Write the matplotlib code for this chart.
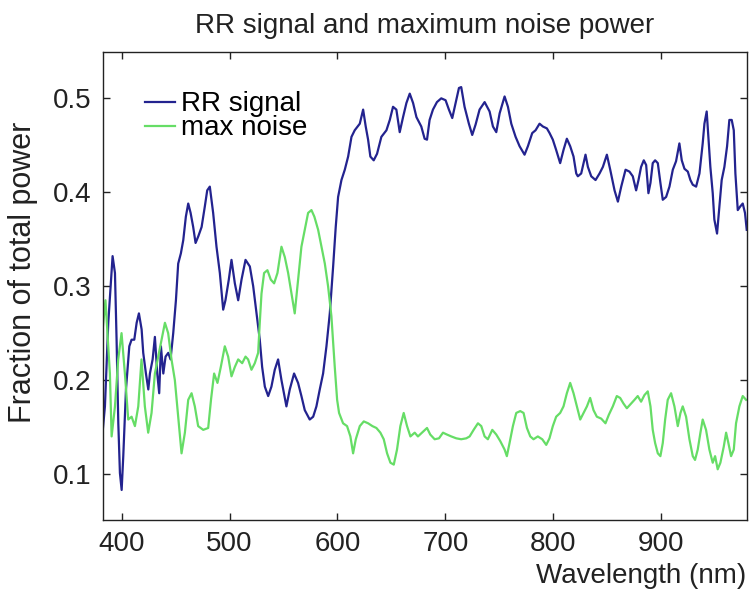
import matplotlib
matplotlib.use("Agg")
from matplotlib import pyplot as plt

# wavelength (nm) and fraction of total power
rr_wl = [382, 384.5, 387.6, 391.6, 393.8, 395.3, 396.9, 398.4, 400.0, 401.5,
         404.0, 407.1, 409.2, 411.7, 413.9, 416.0, 418.5, 420.0, 422.5, 424.7,
         426.2, 428.7, 430.8, 433.0, 434.8, 436.4, 438.6, 440.7, 443.2, 445.3,
         447.8, 450.3, 452.4, 454.9, 457.1, 459.5, 461.7, 463.9, 466.3, 468.5,
         471.0, 474.1, 477.1, 479.3, 481.7, 484.8, 487.9, 491.0, 494.1, 496.2,
         499.3, 501.8, 504.9, 508.0, 511.1, 514.8, 518.8, 521.9, 525.0, 528.0,
         530.2, 532.7, 535.8, 538.8, 541.9, 545.0, 548.1, 552.7, 555.8, 559.8,
         563.5, 566.6, 569.7, 574.3, 577.5, 580.5, 583.6, 586.7, 589.8, 592.9,
         596.0, 598.4, 600.6, 603.7, 606.8, 609.9, 613.0, 616.0, 620.7, 623.8,
         626.2, 628.4, 630.5, 633.6, 636.7, 640.7, 645.4, 648.5, 651.5, 654.6,
         657.7, 660.8, 663.9, 667.0, 670.1, 673.2, 677.7, 680.8, 683.0, 685.4,
         688.5, 692.2, 696.2, 700.2, 703.3, 706.4, 709.5, 712.6, 714.7, 717.8,
         721.8, 724.9, 728.0, 731.7, 736.4, 741.0, 744.1, 747.2, 750.3, 754.9,
         758.0, 761.1, 765.1, 768.8, 773.4, 776.5, 780.5, 783.6, 787.3, 790.4,
         794.1, 796.6, 799.6, 802.7, 806.4, 809.5, 812.6, 815.7, 818.8, 821.3,
         822.8, 825.9, 829.9, 832.1, 835.2, 839.2, 842.9, 846.0, 849.7, 852.8,
         856.8, 859.9, 863.0, 867.0, 870.6, 873.7, 876.8, 879.0, 881.4, 883.9,
         886.1, 888.2, 890.1, 892.2, 894.4, 896.9, 899.3, 901.5, 904.6, 907.7,
         910.8, 913.8, 916.9, 919.1, 921.6, 924.7, 927.1, 929.3, 932.4, 935.5,
         938.5, 940.1, 942.2, 943.8, 945.6, 947.8, 949.3, 951.8, 954.0, 956.1,
         958.6, 961.1, 963.2, 965.4, 967.3, 968.8, 971.0, 973.4, 975.6, 977.7,
         979.3]
rr_signal = [0.140, 0.172, 0.261, 0.332, 0.314, 0.243, 0.154, 0.101, 0.083, 0.119,
             0.190, 0.236, 0.243, 0.243, 0.261, 0.271, 0.254, 0.229, 0.207, 0.190,
             0.207, 0.222, 0.246, 0.207, 0.186, 0.236, 0.207, 0.225, 0.229, 0.222,
             0.250, 0.285, 0.324, 0.335, 0.349, 0.374, 0.388, 0.378, 0.363, 0.346,
             0.353, 0.363, 0.385, 0.402, 0.406, 0.378, 0.342, 0.314, 0.275, 0.285,
             0.307, 0.328, 0.303, 0.285, 0.307, 0.328, 0.321, 0.300, 0.271, 0.243,
             0.214, 0.193, 0.183, 0.193, 0.211, 0.222, 0.200, 0.172, 0.190, 0.207,
             0.197, 0.183, 0.168, 0.158, 0.161, 0.172, 0.190, 0.207, 0.236, 0.271,
             0.321, 0.363, 0.395, 0.413, 0.424, 0.438, 0.459, 0.466, 0.473, 0.488,
             0.470, 0.456, 0.438, 0.434, 0.441, 0.459, 0.466, 0.477, 0.491, 0.488,
             0.464, 0.480, 0.495, 0.505, 0.495, 0.480, 0.470, 0.457, 0.456, 0.477,
             0.488, 0.496, 0.500, 0.498, 0.488, 0.479, 0.495, 0.511, 0.512, 0.491,
             0.473, 0.461, 0.472, 0.488, 0.496, 0.486, 0.470, 0.464, 0.484, 0.502,
             0.491, 0.473, 0.459, 0.449, 0.440, 0.449, 0.463, 0.466, 0.473, 0.470,
             0.468, 0.463, 0.456, 0.445, 0.431, 0.445, 0.457, 0.449, 0.438, 0.420,
             0.417, 0.420, 0.440, 0.427, 0.417, 0.413, 0.420, 0.427, 0.440, 0.424,
             0.402, 0.390, 0.406, 0.424, 0.422, 0.417, 0.402, 0.413, 0.427, 0.434,
             0.429, 0.399, 0.410, 0.431, 0.434, 0.431, 0.410, 0.392, 0.395, 0.406,
             0.424, 0.433, 0.452, 0.434, 0.425, 0.422, 0.413, 0.408, 0.406, 0.420,
             0.452, 0.473, 0.486, 0.459, 0.427, 0.399, 0.371, 0.356, 0.385, 0.413,
             0.427, 0.449, 0.477, 0.477, 0.466, 0.420, 0.381, 0.385, 0.388, 0.378,
             0.360]

noise_wl = [382.5, 385.0, 389.1, 390.7, 393.8, 396.8, 399.9, 403.0, 406.1, 409.2,
            412.3, 415.4, 418.4, 421.5, 424.6, 427.7, 430.8, 433.9, 437.0, 440.1,
            443.1, 446.2, 449.3, 452.4, 455.5, 458.6, 461.7, 464.8, 467.8, 470.9,
            475.6, 480.2, 482.9, 485.7, 488.8, 491.9, 495.6, 498.7, 501.8, 504.9,
            508.0, 511.7, 514.8, 517.2, 520.3, 523.4, 526.5, 528.0, 529.6, 532.0,
            535.1, 538.2, 541.3, 544.4, 548.1, 551.2, 554.3, 557.4, 560.4, 563.5,
            566.6, 569.7, 572.8, 575.9, 578.6, 582.1, 585.2, 588.3, 591.3, 594.4,
            597.5, 599.7, 601.5, 605.2, 608.9, 612.0, 614.5, 617.0, 620.7, 624.4,
            628.4, 632.4, 636.1, 639.8, 642.9, 646.0, 649.1, 652.2, 655.2, 658.3,
            661.4, 664.5, 667.6, 671.6, 674.6, 679.2, 683.0, 686.0, 690.1, 694.1,
            697.8, 701.5, 705.5, 710.1, 714.7, 719.4, 722.5, 726.2, 730.2, 733.3,
            736.4, 739.4, 743.5, 747.2, 750.9, 754.9, 757.0, 759.5, 762.6, 765.7,
            769.4, 772.5, 775.6, 778.7, 781.7, 785.7, 789.8, 793.5, 796.5, 799.6,
            802.7, 806.4, 809.5, 812.6, 815.7, 818.8, 821.9, 825.0, 828.1, 831.2,
            834.2, 837.3, 840.4, 844.4, 848.4, 851.5, 855.2, 858.9, 862.0, 865.1,
            868.2, 872.2, 875.3, 878.3, 881.4, 884.5, 887.6, 890.1, 892.2, 894.4,
            896.9, 899.3, 901.5, 903.7, 906.1, 909.2, 912.3, 915.4, 917.9, 920.0,
            923.1, 926.2, 929.3, 931.4, 933.9, 936.4, 938.5, 941.6, 944.7, 947.8,
            950.0, 952.4, 954.9, 958.0, 960.2, 962.3, 964.8, 967.3, 969.4, 972.5,
            975.6, 978.7]
max_noise = [0.255, 0.285, 0.207, 0.140, 0.172, 0.222, 0.250, 0.207, 0.158, 0.161,
             0.151, 0.172, 0.222, 0.172, 0.144, 0.165, 0.207, 0.225, 0.243, 0.261,
             0.250, 0.222, 0.200, 0.161, 0.122, 0.144, 0.179, 0.186, 0.172, 0.151,
             0.147, 0.149, 0.180, 0.207, 0.197, 0.214, 0.236, 0.225, 0.204, 0.214,
             0.222, 0.218, 0.225, 0.222, 0.211, 0.218, 0.229, 0.261, 0.292, 0.314,
             0.317, 0.307, 0.303, 0.314, 0.342, 0.331, 0.314, 0.292, 0.271, 0.307,
             0.342, 0.360, 0.378, 0.381, 0.374, 0.360, 0.342, 0.324, 0.300, 0.268,
             0.214, 0.179, 0.165, 0.154, 0.151, 0.140, 0.122, 0.137, 0.151, 0.156,
             0.154, 0.151, 0.149, 0.144, 0.137, 0.122, 0.112, 0.110, 0.126, 0.151,
             0.165, 0.151, 0.140, 0.144, 0.140, 0.145, 0.149, 0.142, 0.137, 0.138,
             0.144, 0.142, 0.140, 0.138, 0.137, 0.138, 0.140, 0.147, 0.154, 0.151,
             0.140, 0.137, 0.147, 0.142, 0.135, 0.126, 0.119, 0.133, 0.151, 0.165,
             0.167, 0.165, 0.149, 0.140, 0.137, 0.140, 0.137, 0.131, 0.138, 0.151,
             0.161, 0.165, 0.172, 0.186, 0.197, 0.186, 0.172, 0.158, 0.165, 0.172,
             0.181, 0.168, 0.161, 0.159, 0.154, 0.163, 0.172, 0.183, 0.181, 0.175,
             0.170, 0.175, 0.179, 0.183, 0.177, 0.184, 0.188, 0.172, 0.147, 0.133,
             0.122, 0.119, 0.133, 0.158, 0.179, 0.186, 0.172, 0.151, 0.165, 0.172,
             0.161, 0.137, 0.119, 0.115, 0.126, 0.144, 0.158, 0.147, 0.126, 0.112,
             0.119, 0.105, 0.112, 0.129, 0.144, 0.133, 0.119, 0.126, 0.154, 0.172,
             0.183, 0.179]

x_ticks = [400, 500, 600, 700, 800, 900]
y_ticks = [0.1, 0.2, 0.3, 0.4, 0.5]

fs = 20
plt.rcParams['font.family'] = ['Liberation Sans', 'DejaVu Sans']

fig = plt.figure(figsize=(7.51, 6.0), dpi=100)
ax = fig.add_axes([0.1367, 0.1333, 0.8576, 0.7795])

ax.plot(rr_wl, rr_signal, color='#23238f', linewidth=1.6, label='RR signal')
ax.plot(noise_wl, max_noise, color='#66dd66', linewidth=1.6, label='max noise')

ax.set_xlim(382.4, 979.3)
ax.set_ylim(0.051, 0.549)
ax.set_xticks(x_ticks)
ax.set_yticks(y_ticks)
ax.set_xticklabels([str(t) for t in x_ticks])
ax.set_yticklabels([str(t) for t in y_ticks])
ax.tick_params(direction='in', top=True, right=True, length=5, width=1,
               labelsize=fs, pad=8, colors='#222222')
for s in ax.spines.values():
    s.set_linewidth(1.0)
    s.set_color('#222222')

ax.set_title('RR signal and maximum noise power', fontsize=fs, pad=14, color='#222222')
ax.set_xlabel('Wavelength (nm)', fontsize=fs, loc='right', color='#222222')
ax.set_ylabel('Fraction of total power', fontsize=22, color='#222222')
ax.yaxis.set_label_coords(-0.1, 0.53)

ax.legend(loc='upper left', bbox_to_anchor=(0.049, 0.94), frameon=False, fontsize=fs,
          handlelength=1.08, handletextpad=0.2, labelspacing=-0.08, borderaxespad=0)

fig.savefig('out.png', dpi=100)
